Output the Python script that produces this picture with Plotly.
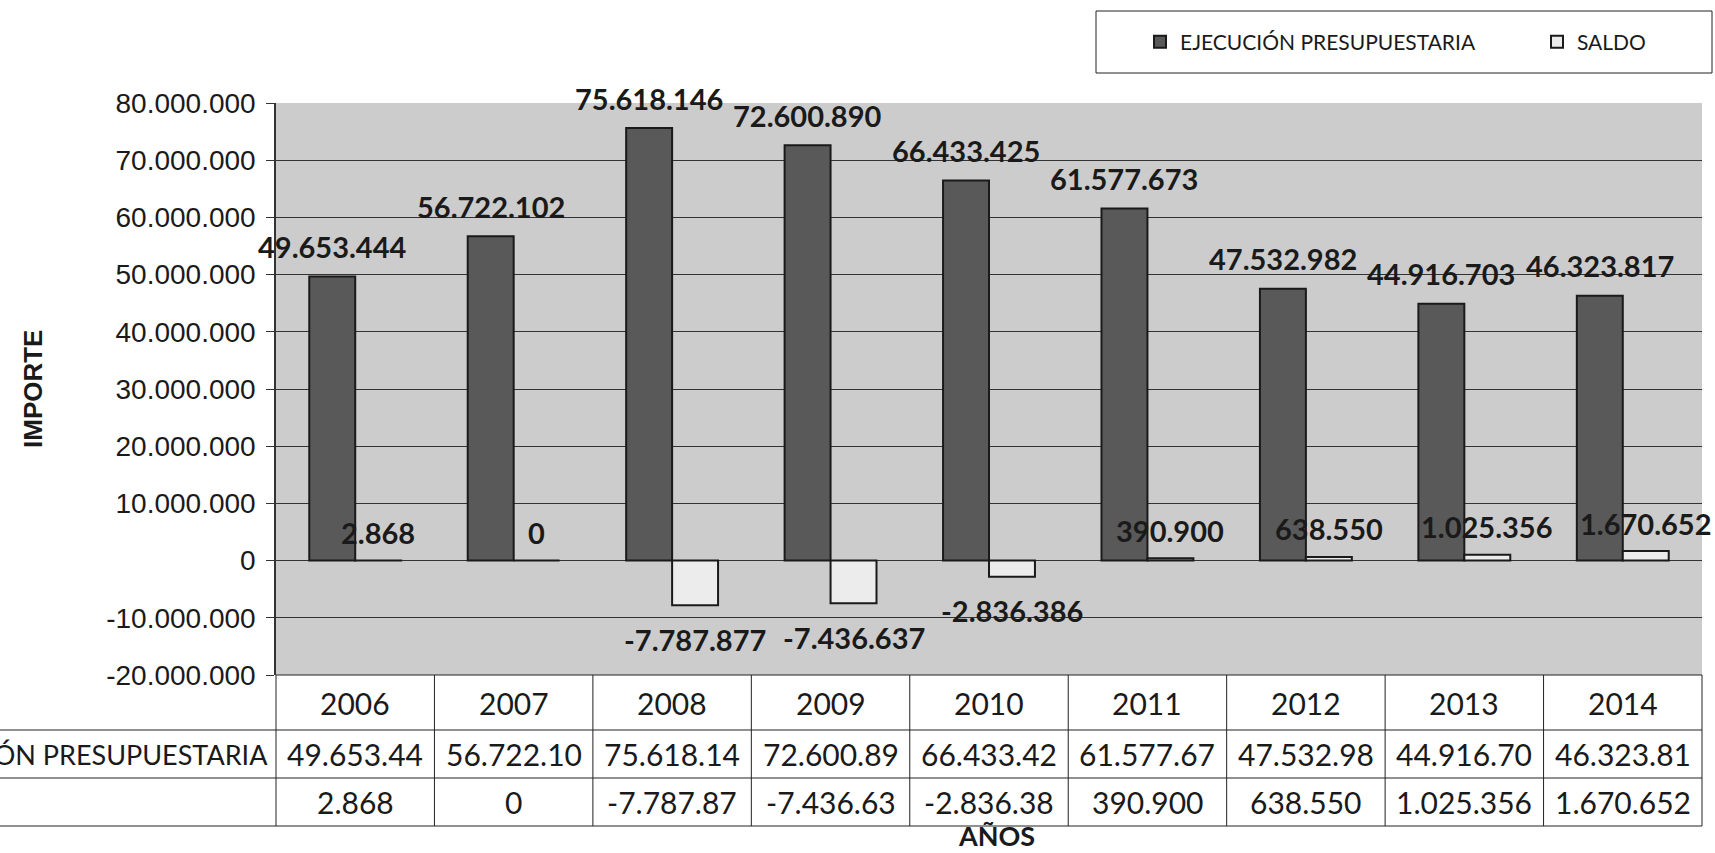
import plotly.graph_objects as go

# ---------------- data ----------------
years = ["2006", "2007", "2008", "2009", "2010", "2011", "2012", "2013", "2014"]
ejecucion = [49653444, 56722102, 75618146, 72600890, 66433425, 61577673, 47532982, 44916703, 46323817]
saldo = [2868, 0, -7787877, -7436637, -2836386, 390900, 638550, 1025356, 1670652]
series_names = ["EJECUCIÓN PRESUPUESTARIA", "SALDO"]

# data table cells as printed (truncated by the cell width)
tabla_ejec = ["49.653.44", "56.722.10", "75.618.14", "72.600.89", "66.433.42",
              "61.577.67", "47.532.98", "44.916.70", "46.323.81"]
tabla_saldo = ["2.868", "0", "-7.787.87", "-7.436.63", "-2.836.38",
               "390.900", "638.550", "1.025.356", "1.670.652"]

tick_vals = [-20000000, -10000000, 0, 10000000, 20000000, 30000000, 40000000,
             50000000, 60000000, 70000000, 80000000]
tick_text = ["-20.000.000", "-10.000.000", "0", "10.000.000", "20.000.000", "30.000.000",
             "40.000.000", "50.000.000", "60.000.000", "70.000.000", "80.000.000"]

y_title = "IMPORTE"
x_title = "AÑOS"


def fmt(v):
    return f"{v:,}".replace(",", ".")


# ---------------- layout constants ----------------
W, H = 1715, 853
ML, MR, MT, MB = 276, 13, 103, 178
PW = W - ML - MR
PH = H - MT - MB
BARGAP = 0.42


def py(pix):  # pixel row -> paper y
    return (H - MB - pix) / PH


def px(pix):  # pixel column -> paper x
    return (pix - ML) / PW


CAL = "Lato"
ARIAL = "Liberation Sans"
TXT = "#1a1a1a"
LINE = "#222222"

fig = go.Figure()
fig.add_trace(go.Bar(
    x=years, y=ejecucion, name=series_names[0], legend="legend",
    marker=dict(color="#595959", line=dict(color="#1a1a1a", width=2)),
))
fig.add_trace(go.Bar(
    x=years, y=saldo, name=series_names[1], legend="legend2",
    marker=dict(color="#ececec", line=dict(color="#1a1a1a", width=2)),
))

annotations = []
cat_w = PW / len(years)
bar_w = cat_w * (1 - BARGAP) / 2
lab_font = dict(family=CAL, size=29, color=TXT, weight="bold")
cell_font = dict(family=CAL, size=30, color=TXT)
for i, yr in enumerate(years):
    v = ejecucion[i]
    annotations.append(dict(x=i, y=v, xref="x", yref="y", text=fmt(v), showarrow=False,
                            xshift=-bar_w / 2, yshift=30, yanchor="middle", font=lab_font))
    s = saldo[i]
    annotations.append(dict(x=i, y=s, xref="x", yref="y", text=fmt(s), showarrow=False,
                            xshift=bar_w / 2, yshift=(28 if s >= 0 else -34), yanchor="middle",
                            font=lab_font))
    # table cells
    annotations.append(dict(x=i, y=py(703), xref="x", yref="paper", text=yr, showarrow=False,
                            yanchor="middle", font=cell_font))
    annotations.append(dict(x=i, y=py(754), xref="x", yref="paper", text=tabla_ejec[i],
                            showarrow=False, yanchor="middle", font=cell_font))
    annotations.append(dict(x=i, y=py(802), xref="x", yref="paper", text=tabla_saldo[i],
                            showarrow=False, yanchor="middle", font=cell_font))

# row label (runs off the left edge as in the reference)
annotations.append(dict(x=px(270), y=py(754), xref="paper", yref="paper", text=series_names[0],
                        showarrow=False, xanchor="right", yanchor="middle",
                        font=dict(family=CAL, size=27, color=TXT)))
# axis titles
annotations.append(dict(x=px(33), y=0.5, xref="paper", yref="paper", text=y_title,
                        showarrow=False, textangle=-90, xanchor="center", yanchor="middle",
                        font=dict(family=ARIAL, size=26, color=TXT, weight="bold")))
annotations.append(dict(x=px(996), y=py(854), xref="paper", yref="paper", text=x_title,
                        showarrow=False, xanchor="center", yanchor="bottom",
                        font=dict(family=CAL, size=27, color=TXT, weight="bold")))

shapes = []
# table grid
for k in range(len(years) + 1):
    xx = k / len(years)
    shapes.append(dict(type="line", xref="paper", yref="paper", x0=xx, x1=xx,
                       y0=0, y1=py(826), line=dict(color=LINE, width=1)))
for rowpix in (730, 778, 826):
    shapes.append(dict(type="line", xref="paper", yref="paper", x0=px(0), x1=1,
                       y0=py(rowpix), y1=py(rowpix), line=dict(color=LINE, width=1)))
shapes.append(dict(type="line", xref="paper", yref="paper", x0=0, x1=1, y0=0, y1=0,
                   line=dict(color=LINE, width=1)))
# legend frame
shapes.append(dict(type="rect", xref="paper", yref="paper", x0=px(1096), x1=px(1712),
                   y0=py(73), y1=py(11), line=dict(color=LINE, width=1),
                   fillcolor="rgba(0,0,0,0)"))

leg_common = dict(orientation="h", xanchor="left", yanchor="middle", y=py(42),
                  bgcolor="rgba(0,0,0,0)", borderwidth=0, itemwidth=30,
                  font=dict(family=CAL, size=21, color=TXT))

fig.update_layout(
    width=W, height=H,
    margin=dict(l=ML, r=MR, t=MT, b=MB),
    paper_bgcolor="white",
    plot_bgcolor="#cccccc",
    barmode="group", bargap=BARGAP, bargroupgap=0,
    showlegend=True,
    legend=dict(x=px(1140), **leg_common),
    legend2=dict(x=px(1537), **leg_common),
    xaxis=dict(type="category", range=[-0.5, len(years) - 0.5], showticklabels=False,
               showgrid=False, zeroline=False, showline=False, ticks=""),
    yaxis=dict(range=[-20000000, 80000000], tickvals=tick_vals, ticktext=tick_text,
               showgrid=True, gridcolor="#333333", gridwidth=1,
               zeroline=True, zerolinecolor="#333333", zerolinewidth=1,
               showline=True, linecolor="#333333", linewidth=1.5,
               ticks="outside", ticklen=8, tickcolor="#333333", ticklabelstandoff=5,
               tickfont=dict(family=ARIAL, size=28, color=TXT)),
    annotations=annotations,
    shapes=shapes,
)

fig.write_html("out.html", config={"displayModeBar": False},
               post_script="document.body.style.margin='0';document.body.style.overflow='hidden';")
